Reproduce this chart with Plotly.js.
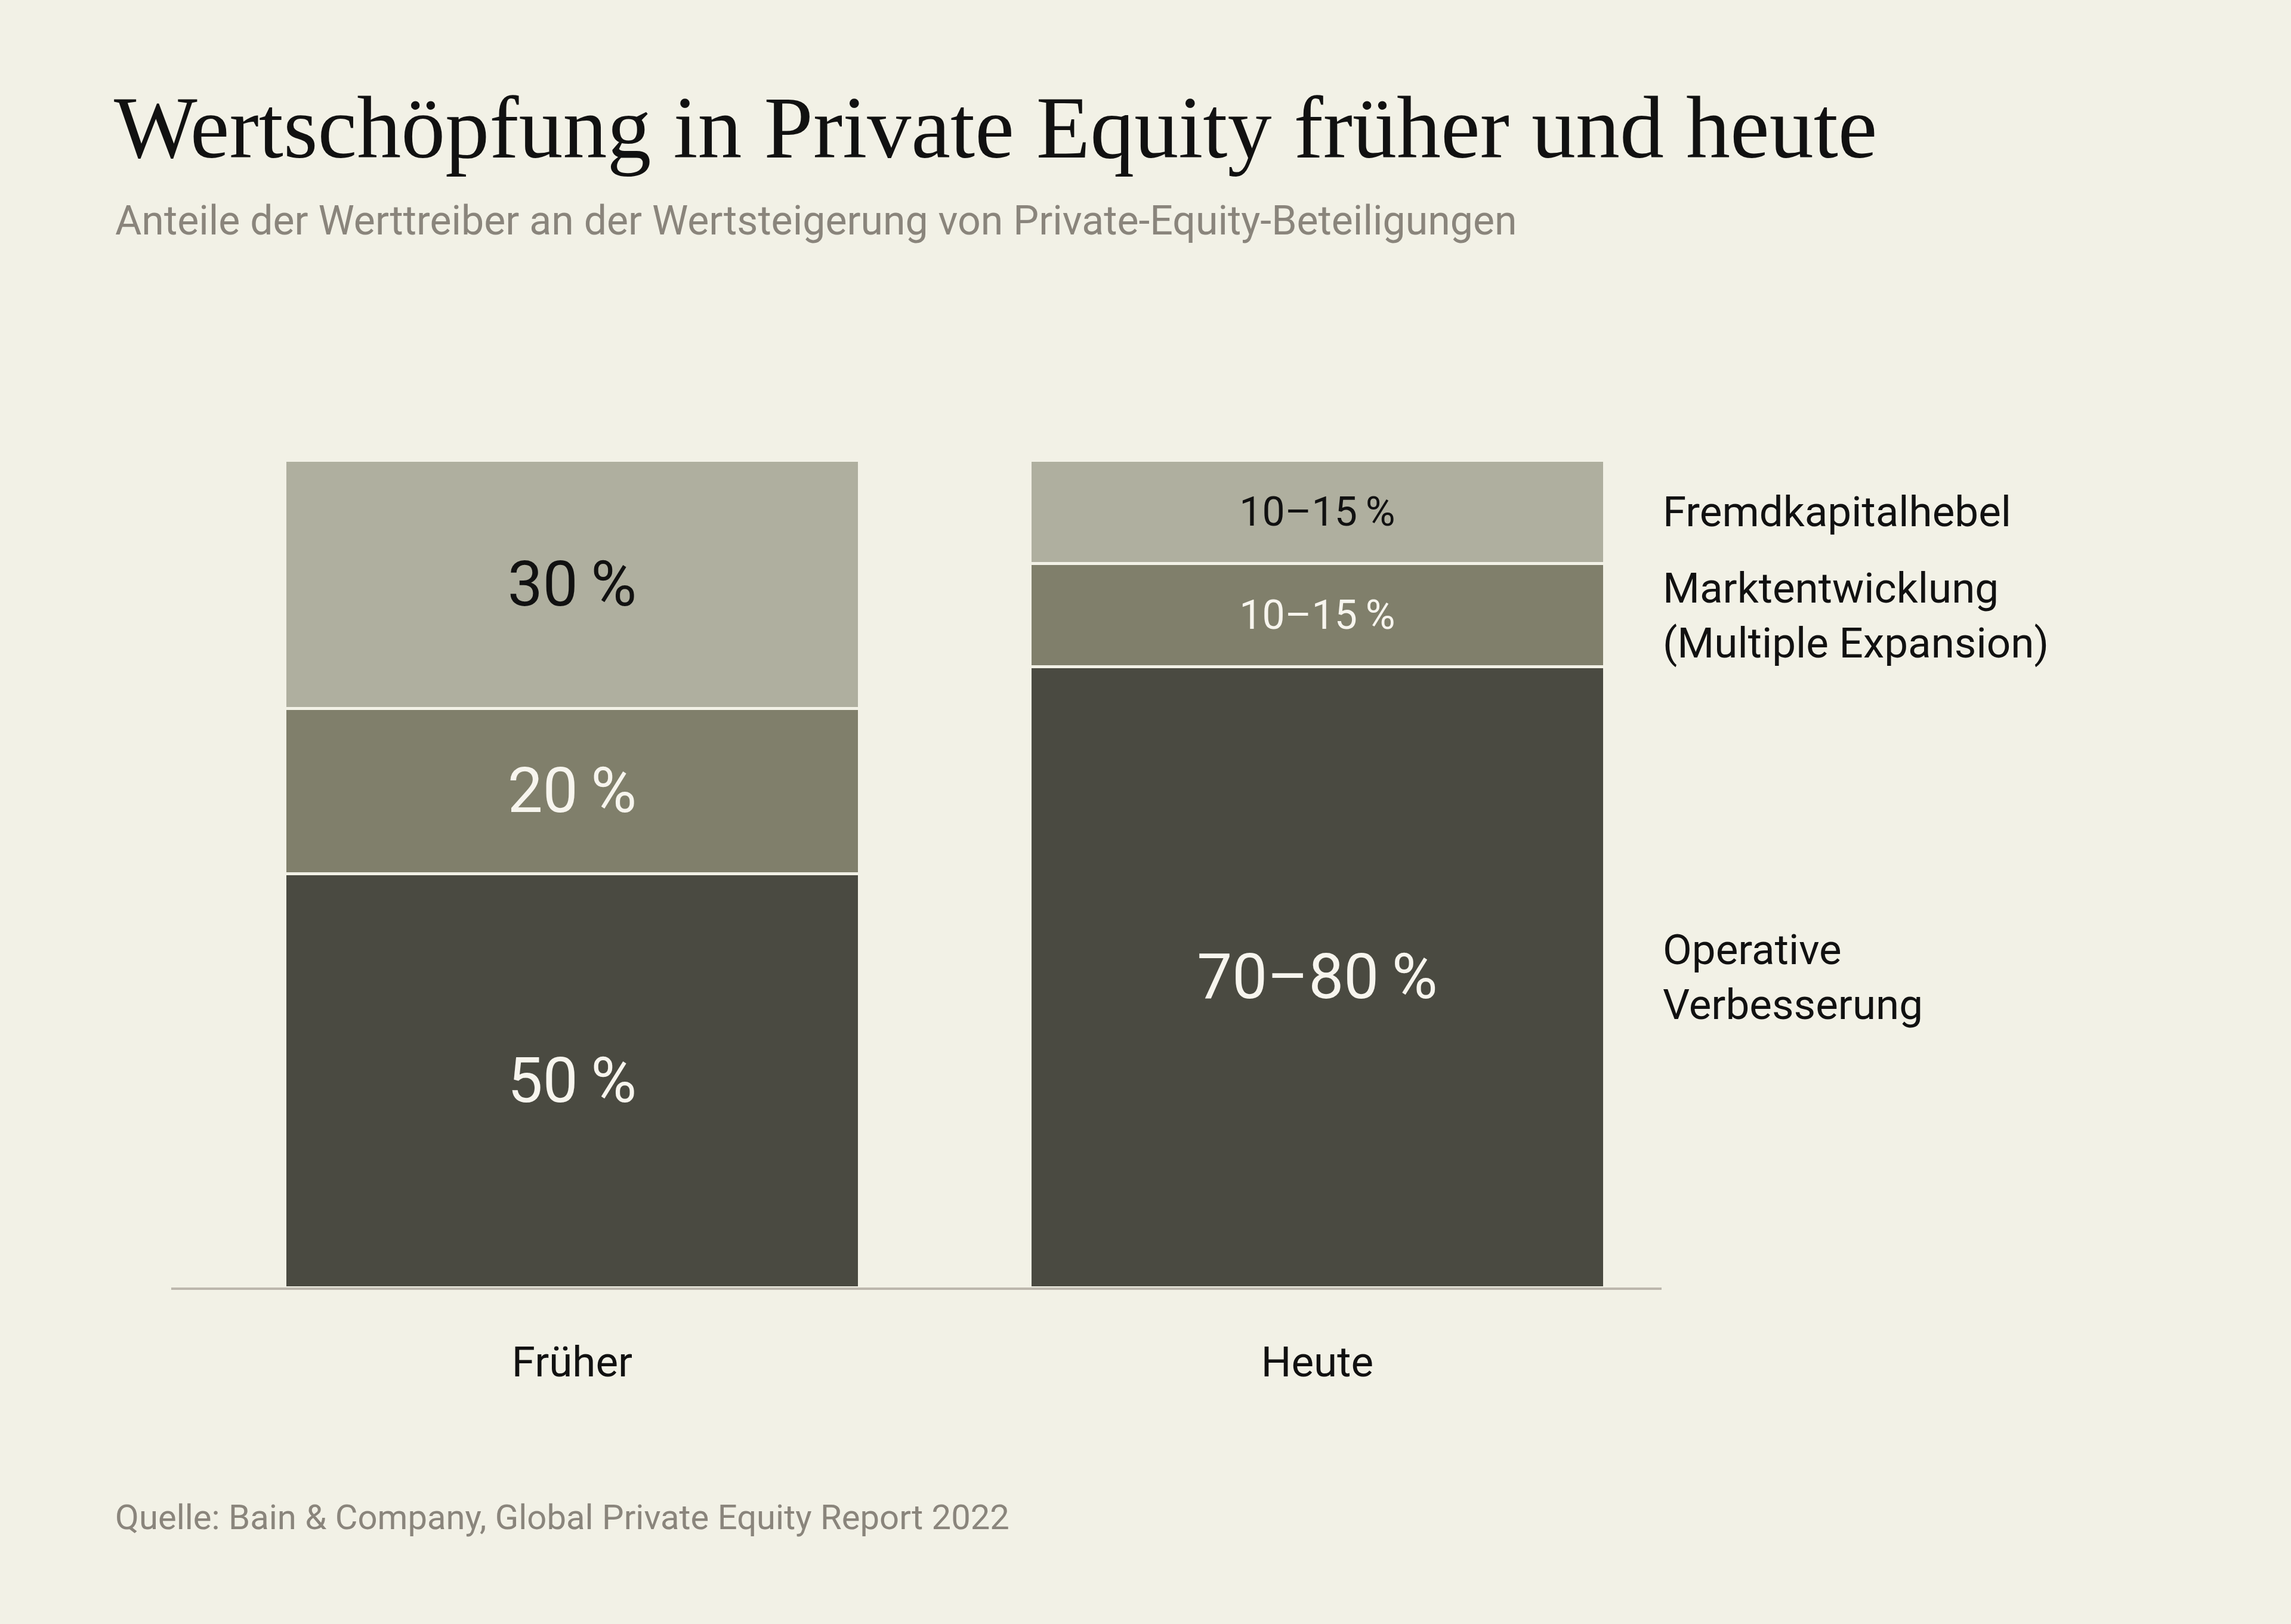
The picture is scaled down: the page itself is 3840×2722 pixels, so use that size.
<!DOCTYPE html>
<html>
<head>
<meta charset="utf-8">
<script src="https://cdn.plot.ly/plotly-3.0.1.min.js"></script>
<style>
  html, body { margin: 0; padding: 0; background: #f2f1e6; }
  #chart { width: 3840px; height: 2722px; }
</style>
</head>
<body>
<div id="chart"></div>
<script>
// ---- Data ----
const categories = ["Früher", "Heute"];
const seriesNames = ["Operative Verbesserung", "Marktentwicklung (Multiple Expansion)", "Fremdkapitalhebel"];
const operativeValues = [50, 75];
const marktValues = [20, 12.5];
const fremdValues = [30, 12.5];
const operativeLabels = ["50\u2009%", "70–80\u2009%"];
const marktLabels = ["20\u2009%", "10–15\u2009%"];
const fremdLabels = ["30\u2009%", "10–15\u2009%"];
const sideLabels = ["Operative<br>Verbesserung", "Marktentwicklung<br>(Multiple Expansion)", "Fremdkapitalhebel"];
const titleText = "Wertschöpfung in Private Equity früher und heute";
const subtitleText = "Anteile der Werttreiber an der Wertsteigerung von Private-Equity-Beteiligungen";
const sourceText = "Quelle: Bain & Company, Global Private Equity Report 2022";

// ---- Style ----
const BG = "#f2f1e6";
const SANS = "Roboto, 'Liberation Sans', sans-serif";
const SERIF = "'Liberation Serif', 'DejaVu Serif', serif";
const colors = ["#4a4a41", "#807f6b", "#afaf9f"];
const labelColors = [["#f7f5ee", "#f7f5ee"], ["#f7f5ee", "#f7f5ee"], ["#111111", "#111111"]];
const labelSizes = [[105, 105], [105, 68], [105, 68]];
const BAR_W = 0.771;

const valueSets = [operativeValues, marktValues, fremdValues];
const labelSets = [operativeLabels, marktLabels, fremdLabels];

const traces = valueSets.map((vals, i) => ({
  type: "bar",
  name: seriesNames[i],
  x: categories,
  y: vals,
  width: BAR_W,
  text: labelSets[i],
  textposition: "inside",
  insidetextanchor: "middle",
  textangle: 0,
  constraintext: "none",
  textfont: { family: SANS, size: labelSizes[i], color: labelColors[i] },
  marker: { color: colors[i], line: { color: BG, width: 5 } },
  hoverinfo: "skip",
  showlegend: false
}));

// side labels aligned to the centre of each "Heute" segment
const lastIdx = categories.length - 1;
let cum = 0;
const sideAnnotations = valueSets.map((vals, i) => {
  const v = vals[lastIdx];
  const mid = cum + v / 2;
  cum += v;
  return {
    text: sideLabels[i],
    xref: "paper", x: 1, xanchor: "left",
    yref: "y", y: mid, yanchor: "middle",
    align: "left", showarrow: false,
    font: { family: SANS, size: 71, color: "#111111" }
  };
});

// plot area geometry (px)
const L = 287, R = 2785, T = 771, B = 2158;
const PH = B - T, PW = R - L;
const px2paperX = px => (px - L) / PW;
const px2paperY = py => (B - py) / PH;

const annotations = sideAnnotations.concat([
  {
    text: subtitleText,
    xref: "paper", x: px2paperX(191), xanchor: "left",
    yref: "paper", y: px2paperY(370), yanchor: "middle",
    showarrow: false, align: "left",
    font: { family: SANS, size: 68, color: "#8a857c" }
  },
  {
    text: sourceText,
    xref: "paper", x: px2paperX(191), xanchor: "left",
    yref: "paper", y: px2paperY(2543), yanchor: "middle",
    showarrow: false, align: "left",
    font: { family: SANS, size: 58, color: "#8a857c" }
  }
]);

const layout = {
  width: 3840, height: 2722,
  paper_bgcolor: BG, plot_bgcolor: BG,
  barmode: "stack",
  margin: { l: L, r: 3840 - R, t: T, b: 2722 - B, pad: 0 },
  title: {
    text: titleText,
    xref: "container", x: 191 / 3840, xanchor: "left",
    yref: "container", y: 1 - 212 / 2722, yanchor: "middle",
    font: { family: SERIF, size: 148, color: "#111111" }
  },
  xaxis: {
    type: "category",
    range: [-0.538, 1.462],
    showline: true, linecolor: "#bcb7ad", linewidth: 4,
    showgrid: false, zeroline: false,
    ticks: "", ticklabelstandoff: 60,
    tickfont: { family: SANS, size: 71, color: "#111111" },
    fixedrange: true
  },
  yaxis: {
    range: [0, 100], visible: false,
    showgrid: false, zeroline: false, fixedrange: true
  },
  annotations: annotations,
  showlegend: false,
  hovermode: false
};

Plotly.newPlot("chart", traces, layout, { staticPlot: true, displayModeBar: false });
</script>
</body>
</html>
